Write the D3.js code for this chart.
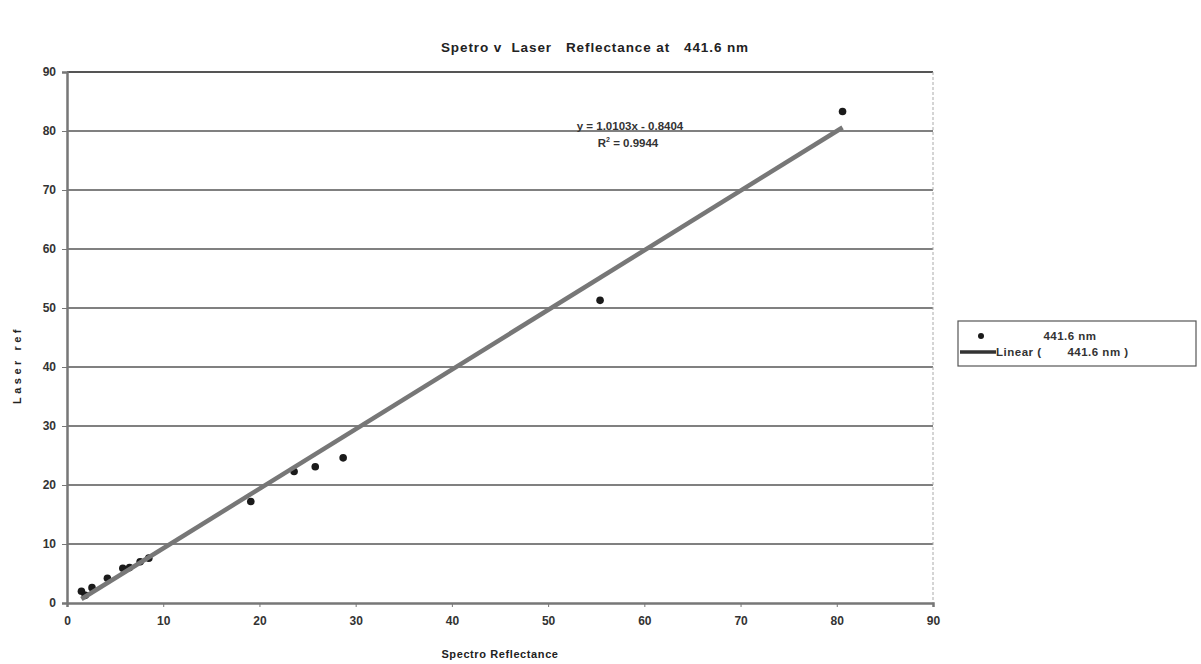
<!DOCTYPE html>
<html>
<head>
<meta charset="utf-8">
<script src="https://cdn.jsdelivr.net/npm/d3@7"></script>
<style>
  body { margin: 0; background: #fff; }
  text { font-family: Arial, "Liberation Sans", sans-serif; }
</style>
</head>
<body>
<svg id="chart" width="1201" height="664"></svg>
<script>
// spectro reflectance (x) vs laser reflectance (y) at 441.6 nm
const spectro = [1.5, 1.9, 2.6, 4.2, 5.8, 6.5, 7.6, 8.5, 19.1, 23.6, 25.8, 28.7, 55.4, 80.6];
const laser   = [2.0, 1.3, 2.6, 4.2, 5.9, 6.0, 7.0, 7.6, 17.2, 22.3, 23.1, 24.6, 51.3, 83.3];
const xTicks = [0, 10, 20, 30, 40, 50, 60, 70, 80, 90];
const yTicks = [0, 10, 20, 30, 40, 50, 60, 70, 80, 90];
const slope = 1.0103, intercept = -0.8404, r2 = 0.9944;
const seriesName = "441.6 nm";

const svg = d3.select('#chart');
const m = {left: 67, right: 933, top: 72, bottom: 603};

const x = d3.scaleLinear().domain([0, 90]).range([m.left, m.right]);
const y = d3.scaleLinear().domain([0, 90]).range([m.bottom, m.top]);

// title
svg.append('text')
    .attr('x', 595).attr('y', 52)
    .attr('text-anchor', 'middle')
    .attr('font-size', 13.5).attr('font-weight', 'bold')
    .attr('fill', '#222')
    .attr('letter-spacing', 0.9)
    .attr('xml:space', 'preserve')
    .text('Spetro v  Laser   Reflectance at   441.6 nm');

// grid lines
svg.append('g').selectAll('line')
    .data(yTicks.filter(d => d > 0))
    .join('line')
    .attr('x1', m.left).attr('x2', m.right)
    .attr('y1', d => y(d)).attr('y2', d => y(d))
    .attr('stroke', d => d === 90 ? '#555' : '#808080')
    .attr('stroke-width', 1.8);

// right border (dashed)
svg.append('line')
    .attr('x1', m.right).attr('x2', m.right)
    .attr('y1', m.top).attr('y2', m.bottom)
    .attr('stroke', '#aaa').attr('stroke-width', 1)
    .attr('stroke-dasharray', '3,2');

// axes
const xAxis = d3.axisBottom(x).tickValues(xTicks).tickSize(4).tickPadding(9);
const yAxis = d3.axisLeft(y).tickValues(yTicks).tickSize(5).tickPadding(6);

const gx = svg.append('g')
    .attr('transform', `translate(0,${m.bottom})`)
    .call(xAxis);
const gy = svg.append('g')
    .attr('transform', `translate(${m.left},0)`)
    .call(yAxis);

[gx, gy].forEach(g => {
    g.select('.domain').attr('stroke', '#777').attr('stroke-width', 2.5);
    g.selectAll('.tick line').attr('stroke', '#777').attr('stroke-width', 1);
    g.selectAll('.tick text')
        .attr('font-size', 12).attr('font-weight', 'bold')
        .attr('fill', '#333')
        .attr('font-family', 'Arial, "Liberation Sans", sans-serif');
});

// axis titles
svg.append('text')
    .attr('x', 500).attr('y', 658)
    .attr('text-anchor', 'middle')
    .attr('font-size', 11).attr('font-weight', 'bold')
    .attr('fill', '#222').attr('letter-spacing', 0.6)
    .text('Spectro Reflectance');

svg.append('text')
    .attr('transform', 'translate(21,365) rotate(-90)')
    .attr('text-anchor', 'middle')
    .attr('font-size', 11).attr('font-weight', 'bold')
    .attr('fill', '#222').attr('letter-spacing', 3.5)
    .text('Laser ref');

// points
svg.append('g').selectAll('circle')
    .data(spectro.map((d, i) => [d, laser[i]]))
    .join('circle')
    .attr('cx', d => x(d[0])).attr('cy', d => y(d[1]))
    .attr('r', 3.8)
    .attr('fill', '#1a1a1a');

// trend line over the data range, drawn on top of the points
const xs = d3.extent(spectro);
svg.append('line')
    .attr('x1', x(xs[0])).attr('y1', y(slope * xs[0] + intercept))
    .attr('x2', x(xs[1])).attr('y2', y(slope * xs[1] + intercept))
    .attr('stroke', '#777').attr('stroke-width', 4.5);

// equation
const eq = svg.append('g').attr('font-size', 11.5).attr('fill', '#333').attr('font-weight', 'bold');
eq.append('text')
    .attr('x', 630).attr('y', 130)
    .attr('text-anchor', 'middle')
    .text(`y = ${slope}x - ${Math.abs(intercept)}`);
const r = eq.append('text')
    .attr('x', 628).attr('y', 147)
    .attr('text-anchor', 'middle');
r.append('tspan').text('R');
r.append('tspan').attr('dy', -5).attr('font-size', 7).text('2');
r.append('tspan').attr('dy', 5).text(` = ${r2}`);

// legend
const lg = svg.append('g');
lg.append('rect')
    .attr('x', 958).attr('y', 321).attr('width', 238).attr('height', 45)
    .attr('fill', '#fff').attr('stroke', '#555').attr('stroke-width', 1.2);
lg.append('circle')
    .attr('cx', 981).attr('cy', 336).attr('r', 3)
    .attr('fill', '#1a1a1a');
lg.append('text')
    .attr('x', 1070).attr('y', 340)
    .attr('text-anchor', 'middle')
    .attr('font-size', 11.5).attr('font-weight', 'bold').attr('fill', '#333')
    .attr('letter-spacing', 0.5)
    .text(seriesName);
lg.append('line')
    .attr('x1', 960).attr('x2', 996).attr('y1', 352).attr('y2', 352)
    .attr('stroke', '#333').attr('stroke-width', 3.5);
lg.append('text')
    .attr('x', 996).attr('y', 356)
    .attr('font-size', 11.5).attr('font-weight', 'bold').attr('fill', '#333')
    .attr('letter-spacing', 0.5)
    .attr('xml:space', 'preserve')
    .text(`Linear (       ${seriesName} )`);
</script>
</body>
</html>
